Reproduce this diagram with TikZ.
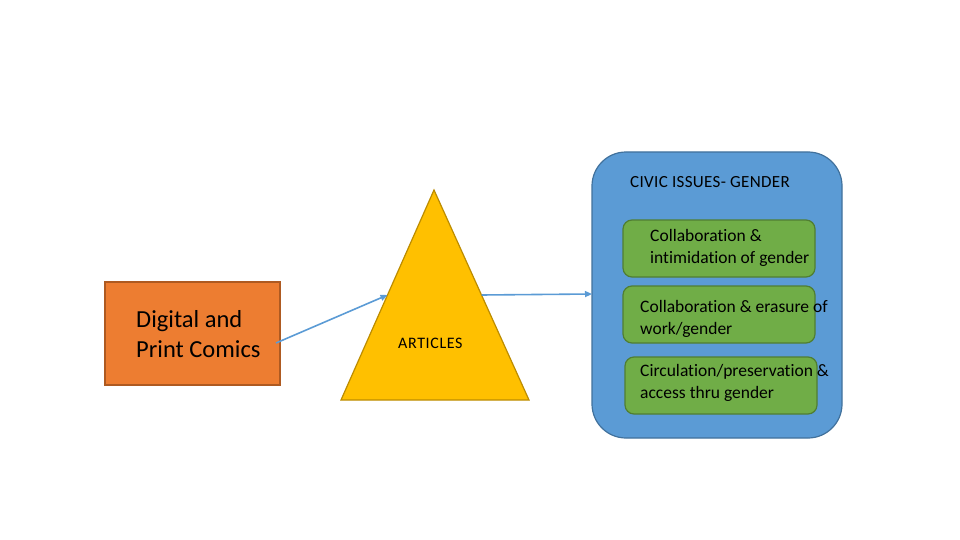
\documentclass[tikz,border=0pt]{standalone}
\usepackage{fontspec}
\setmainfont{Carlito}[Ligatures=NoCommon]
\usetikzlibrary{arrows.meta,calc}
\definecolor{orangefill}{HTML}{ED7D31}
\definecolor{orangeline}{HTML}{AE5A21}
\definecolor{goldfill}{HTML}{FFC000}
\definecolor{goldline}{HTML}{BC8C00}
\definecolor{bluefill}{HTML}{5B9BD5}
\definecolor{blueline}{HTML}{41719C}
\definecolor{greenfill}{HTML}{70AD47}
\definecolor{greenline}{HTML}{507E32}
\definecolor{arrowblue}{HTML}{5B9BD5}
\tikzset{
  box/.style={draw=orangeline, fill=orangefill, line width=1.2pt},
  civicbox/.style={draw=blueline, fill=bluefill, line width=1.2pt, rounded corners=34pt},
  greenbox/.style={draw=greenline, fill=greenfill, line width=1.2pt, rounded corners=9pt},
  lbl/.style={anchor=west, align=left, inner sep=0pt, text=black},
  greentext/.style={lbl, font=\fontsize{17.5}{22}\selectfont},
  conn/.style={draw=arrowblue, line width=1.6pt, -{Triangle[length=7pt,width=6pt]}}
}
\begin{document}
\begin{tikzpicture}[x=1pt,y=-1pt]
\useasboundingbox (0,0) rectangle (960,540);
% orange box
\draw[box] (105,282) rectangle (280,385);
\node[lbl, font=\fontsize{24.5}{30}\selectfont] (comics) at (136,334) {Digital and\\Print Comics};
\coordinate (comicsout) at (276,343);
% triangle
\coordinate (apex) at (434,190);
\coordinate (bl) at (341,400);
\coordinate (br) at (529,400);
\draw[draw=goldline, fill=goldfill, line width=1.2pt] (apex) -- (bl) -- (br) -- cycle;
\node[lbl, font=\fontsize{16}{19}\selectfont\addfontfeature{LetterSpace=4}] (articles) at (398,343) {ARTICLES};
% civic box
\draw[civicbox] (592,152) rectangle (842,438);
\coordinate (civicin) at (592,294);
\node[lbl, font=\fontsize{17}{20}\selectfont\addfontfeature{LetterSpace=2}] (civic) at (630,182) {CIVIC ISSUES- GENDER};
% green boxes
\draw[greenbox] (623,220) rectangle (815,277);
\node[greentext] (g1) at (650,248) {Collaboration \&\\intimidation of gender};
\draw[greenbox] (623,286) rectangle (815,343);
\node[greentext] (g2) at (640,319) {Collaboration \& erasure of\\work/gender};
\draw[greenbox] (625,357) rectangle (817,414);
\node[greentext] (g3) at (640,383) {Circulation/preservation \&\\access thru gender};
% connectors
\draw[conn] (comicsout) -- ($(apex)!0.5!(bl)$);
\draw[conn] ($(apex)!0.5!(br)$) -- (civicin);
\end{tikzpicture}
\end{document}
